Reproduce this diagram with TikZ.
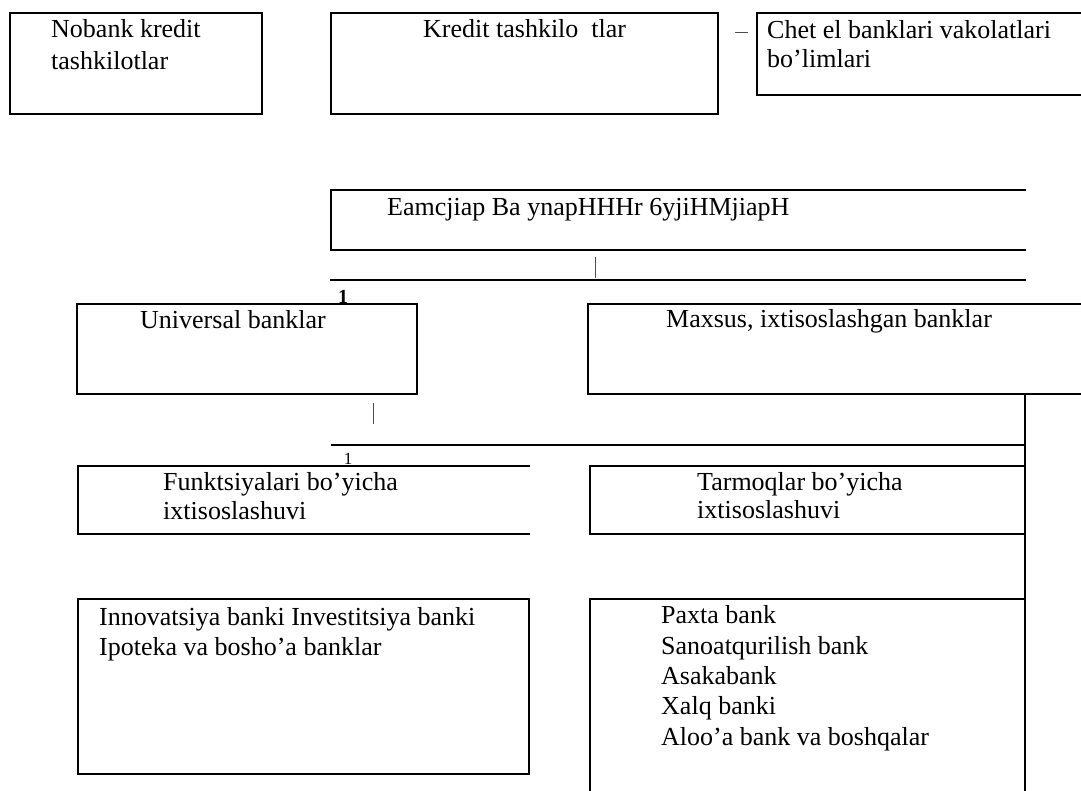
\documentclass[tikz,border=0pt]{standalone}
\usepackage{fontspec}
\setmainfont{Liberation Serif}

\begin{document}
\begin{tikzpicture}[x=1pt, y=-1pt,
  frame/.style={line width=2.6pt, line cap=rect},
  thin/.style={line width=1pt, black!70},
  txt/.style={anchor=base west, inner sep=0pt, align=left, font=\fontsize{26}{30}\selectfont}]
\useasboundingbox (0,0) rectangle (1081,790);
% top row (multi-line texts sit on their last baseline)
\draw[frame] (10,13) rectangle (262,114);
\draw[frame] (331,13) rectangle (718,114);
\draw[frame] (1081,13) -- (757,13) -- (757,95) -- (1081,95);
\draw[thin] (735,32) -- (748,32);
\node[txt, font=\fontsize{26}{32}\selectfont] (nobank) at (51,69) {Nobank kredit\\tashkilotlar};
\node[txt] (kredit) at (423,37) {Kredit tashkilo\ \ tlar};
\node[txt, font=\fontsize{26}{29}\selectfont] (chet) at (767,67) {Chet el banklari vakolatlari\\bo’limlari};
% second row
\draw[frame] (1025,190) -- (331,190) -- (331,250) -- (1025,250);
\node[txt] (eamc) at (387,215) {Eamcjiap Ba ynapHHHr 6yjiHMjiapH};
\draw[frame] (331,280) -- (1025,280);
\draw[thin] (595,257) -- (595,278);
\node[anchor=base, inner sep=0pt, font=\fontsize{20}{20}\selectfont\bfseries] (one) at (343,303) {1};
% banks
\draw[frame] (77,304) rectangle (417,394);
\draw[frame] (1081,304) -- (588,304) -- (588,394) -- (1081,394);
\node[txt] (universal) at (140,328) {Universal banklar};
\node[txt] (maxsus) at (666,327) {Maxsus, ixtisoslashgan banklar};
\draw[thin] (373,403) -- (373,424);
\draw[frame] (332,445) -- (1025,445);
\draw[frame] (1025,394) -- (1025,790);
\node[anchor=base, inner sep=0pt, font=\fontsize{17}{17}\selectfont] (onebis) at (348,464) {1};
% specialisation
\draw[frame] (529,466) -- (78,466) -- (78,534) -- (529,534);
\draw[frame] (590,466) rectangle (1025,534);
\node[txt, font=\fontsize{26}{29}\selectfont] (funk) at (163,519) {Funktsiyalari bo’yicha\\ixtisoslashuvi};
\node[txt, font=\fontsize{26}{28}\selectfont] (tarm) at (697,518) {Tarmoqlar bo’yicha\\ixtisoslashuvi};
% lists
\draw[frame] (78,599) rectangle (529,774);
\draw[frame] (590,790) -- (590,599) -- (1025,599);
\node[txt] (innov) at (99,655) {Innovatsiya banki Investitsiya banki\\Ipoteka va bosho’a banklar};
\node[txt, font=\fontsize{26}{30.3}\selectfont] (paxta) at (661,745) {Paxta bank\\Sanoatqurilish bank\\Asakabank\\Xalq banki\\Aloo’a bank va boshqalar};
\end{tikzpicture}
\end{document}
